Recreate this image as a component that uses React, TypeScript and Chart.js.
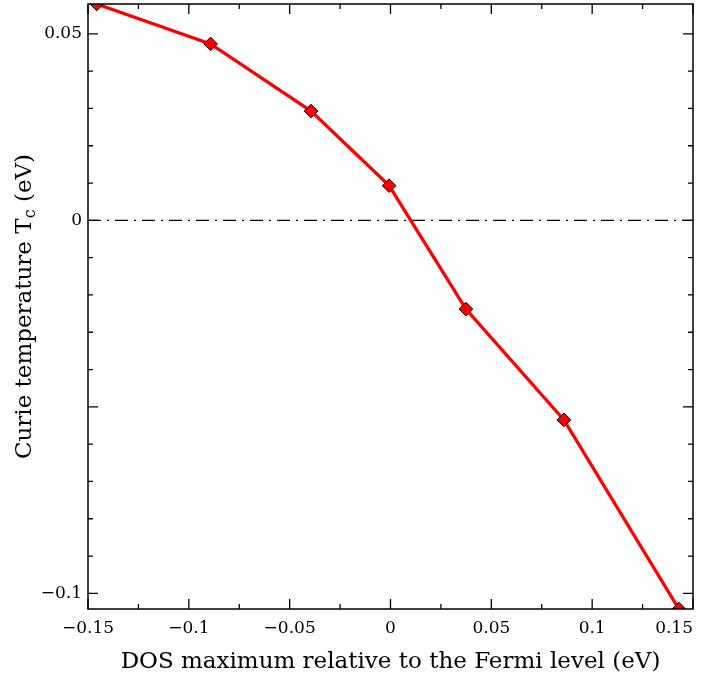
import React, { useEffect, useRef } from 'react';
import { Chart, registerables } from 'chart.js';

Chart.register(...registerables);

// Position of the DOS maximum relative to E_F (eV) and the resulting Curie temperature (eV)
const dosMaxEv = [-0.1457, -0.0892, -0.0394, -0.0007, 0.0374, 0.086, 0.143];
const curieTcEv = [0.058, 0.0473, 0.0293, 0.0093, -0.0238, -0.0535, -0.1042];

// Tick positions (minor + major) and the labelled subset
const xTicks = [-0.15, -0.125, -0.1, -0.075, -0.05, -0.025, 0, 0.025, 0.05, 0.075, 0.1, 0.125, 0.15];
const xMajor = [-0.15, -0.1, -0.05, 0, 0.05, 0.1, 0.15];
const xLabelValues = [-0.15, -0.1, -0.05, 0, 0.05, 0.1, 0.15];
const xLabels = ['\u22120.15', '\u22120.1', '\u22120.05', '0', '0.05', '0.1', '0.15'];

const yTicks = [0.05, 0.04, 0.03, 0.02, 0.01, 0, -0.01, -0.02, -0.03, -0.04, -0.05, -0.06, -0.07, -0.08, -0.09, -0.1];
const yMajor = [0.05, 0, -0.05, -0.1];
const yLabelValues = [0.05, 0, -0.1];
const yLabels = ['0.05', '0', '\u22120.1'];

const xRange = [-0.15, 0.15];
const yRange = [-0.1042, 0.058];

const xTitle = 'DOS maximum relative to the Fermi level (eV)';
const yTitleMain = 'Curie temperature T';
const yTitleSub = 'c';
const yTitleTail = ' (eV)';

const FONT = '"DejaVu Serif", serif';
const TICK_FONT = `17px ${FONT}`;

const near = (a: number, b: number) => Math.abs(a - b) < 1e-9;
const labelFor = (v: number, values: number[], labels: string[]) => {
  const i = values.findIndex((u) => near(u, v));
  return i >= 0 ? labels[i] : '';
};

// Zero reference line, inward ticks on all four sides, frame, x tick labels and the y-axis title
const framePlugin = {
  id: 'frameAndTicks',
  beforeDatasetsDraw(chart: any) {
    const { ctx, chartArea: a, scales } = chart;
    const y0 = scales.y.getPixelForValue(0);
    ctx.save();
    ctx.beginPath();
    ctx.rect(a.left, a.top, a.right - a.left, a.bottom - a.top);
    ctx.clip();
    ctx.strokeStyle = '#000';
    ctx.lineWidth = 1.2;
    ctx.setLineDash([13, 6, 2, 6]);
    ctx.beginPath();
    ctx.moveTo(a.left, y0);
    ctx.lineTo(a.right, y0);
    ctx.stroke();
    ctx.restore();
  },
  afterDatasetsDraw(chart: any) {
    const { ctx, chartArea: a, scales } = chart;
    ctx.save();
    ctx.strokeStyle = '#000';
    ctx.lineWidth = 1.3;
    ctx.setLineDash([]);
    ctx.beginPath();
    for (const t of scales.x.ticks) {
      const px = scales.x.getPixelForValue(t.value);
      const len = xMajor.some((m) => near(m, t.value)) ? 10 : 5;
      ctx.moveTo(px, a.bottom);
      ctx.lineTo(px, a.bottom - len);
      ctx.moveTo(px, a.top);
      ctx.lineTo(px, a.top + len);
    }
    for (const t of scales.y.ticks) {
      const py = scales.y.getPixelForValue(t.value);
      const len = yMajor.some((m) => near(m, t.value)) ? 10 : 5;
      ctx.moveTo(a.left, py);
      ctx.lineTo(a.left + len, py);
      ctx.moveTo(a.right, py);
      ctx.lineTo(a.right - len, py);
    }
    ctx.stroke();
    ctx.lineWidth = 1.5;
    ctx.strokeRect(a.left, a.top, a.right - a.left, a.bottom - a.top);

    // x tick labels: centred under their tick, the last one kept inside the canvas
    ctx.fillStyle = '#000';
    ctx.font = TICK_FONT;
    ctx.textBaseline = 'top';
    xLabelValues.forEach((v, i) => {
      const px = scales.x.getPixelForValue(v);
      ctx.textAlign = i === xLabelValues.length - 1 ? 'right' : 'center';
      ctx.fillText(xLabels[i], px, a.bottom + 11);
    });
    ctx.restore();
  },
  afterDraw(chart: any) {
    const { ctx, chartArea: a } = chart;
    const big = `23px ${FONT}`;
    const small = `16px ${FONT}`;
    ctx.save();
    ctx.fillStyle = '#000';
    ctx.textBaseline = 'alphabetic';
    ctx.textAlign = 'left';
    ctx.font = big;
    const w1 = ctx.measureText(yTitleMain).width;
    const w3 = ctx.measureText(yTitleTail).width;
    ctx.font = small;
    const w2 = ctx.measureText(yTitleSub).width;
    const total = w1 + w2 + w3;
    ctx.translate(31, (a.top + a.bottom) / 2);
    ctx.rotate(-Math.PI / 2);
    let x = -total / 2;
    ctx.font = big;
    ctx.fillText(yTitleMain, x, 0);
    x += w1;
    ctx.font = small;
    ctx.fillText(yTitleSub, x, 4);
    x += w2;
    ctx.font = big;
    ctx.fillText(yTitleTail, x, 0);
    ctx.restore();
  },
};

export default function App() {
  const canvasRef = useRef<HTMLCanvasElement | null>(null);

  useEffect(() => {
    const canvas = canvasRef.current;
    if (!canvas) return;
    const points = dosMaxEv.map((x, i) => ({ x, y: curieTcEv[i] }));
    const chart = new Chart(canvas, {
      type: 'line',
      data: {
        datasets: [
          {
            data: points,
            borderColor: '#ff0000',
            borderWidth: 3.3,
            tension: 0,
            fill: false,
            pointStyle: 'rectRot',
            pointRadius: 6.8,
            pointBackgroundColor: '#ff0000',
            pointBorderColor: '#000000',
            pointBorderWidth: 1,
            clip: 0,
          } as any,
        ],
      },
      options: {
        responsive: false,
        animation: false,
        devicePixelRatio: 1,
        layout: { autoPadding: false, padding: { top: 4, right: 11, bottom: 0, left: 0 } },
        plugins: { legend: { display: false }, tooltip: { enabled: false } },
        scales: {
          x: {
            type: 'linear',
            min: xRange[0],
            max: xRange[1],
            afterBuildTicks: (s: any) => {
              s.ticks = xTicks.map((value) => ({ value }));
            },
            afterFit: (s: any) => {
              s.height = 70;
              s.paddingLeft = 0;
              s.paddingRight = 0;
              s.paddingTop = 0;
              s.paddingBottom = 0;
            },
            grid: { display: false, drawTicks: false },
            border: { display: false },
            ticks: { display: false },
            title: {
              display: true,
              text: xTitle,
              color: '#000',
              font: { family: FONT, size: 23, lineHeight: 1.2 },
              padding: { top: 0, bottom: 3 },
            },
          },
          y: {
            type: 'linear',
            min: yRange[0],
            max: yRange[1],
            afterBuildTicks: (s: any) => {
              s.ticks = yTicks.map((value) => ({ value }));
            },
            afterFit: (s: any) => {
              s.width = 88;
              s.paddingTop = 0;
              s.paddingBottom = 0;
              s.paddingLeft = 0;
              s.paddingRight = 0;
            },
            grid: { display: false, drawTicks: false },
            border: { display: false },
            ticks: {
              autoSkip: false,
              padding: 6,
              color: '#000',
              font: { family: FONT, size: 17 },
              callback: (v: any) => labelFor(Number(v), yLabelValues, yLabels),
            },
          },
        },
      },
      plugins: [framePlugin],
    } as any);
    return () => chart.destroy();
  }, []);

  return (
    <div style={{ position: 'absolute', left: 0, top: 0, width: 704, height: 679, background: '#fff' }}>
      <canvas ref={canvasRef} width={704} height={679} style={{ display: 'block' }} />
    </div>
  );
}
